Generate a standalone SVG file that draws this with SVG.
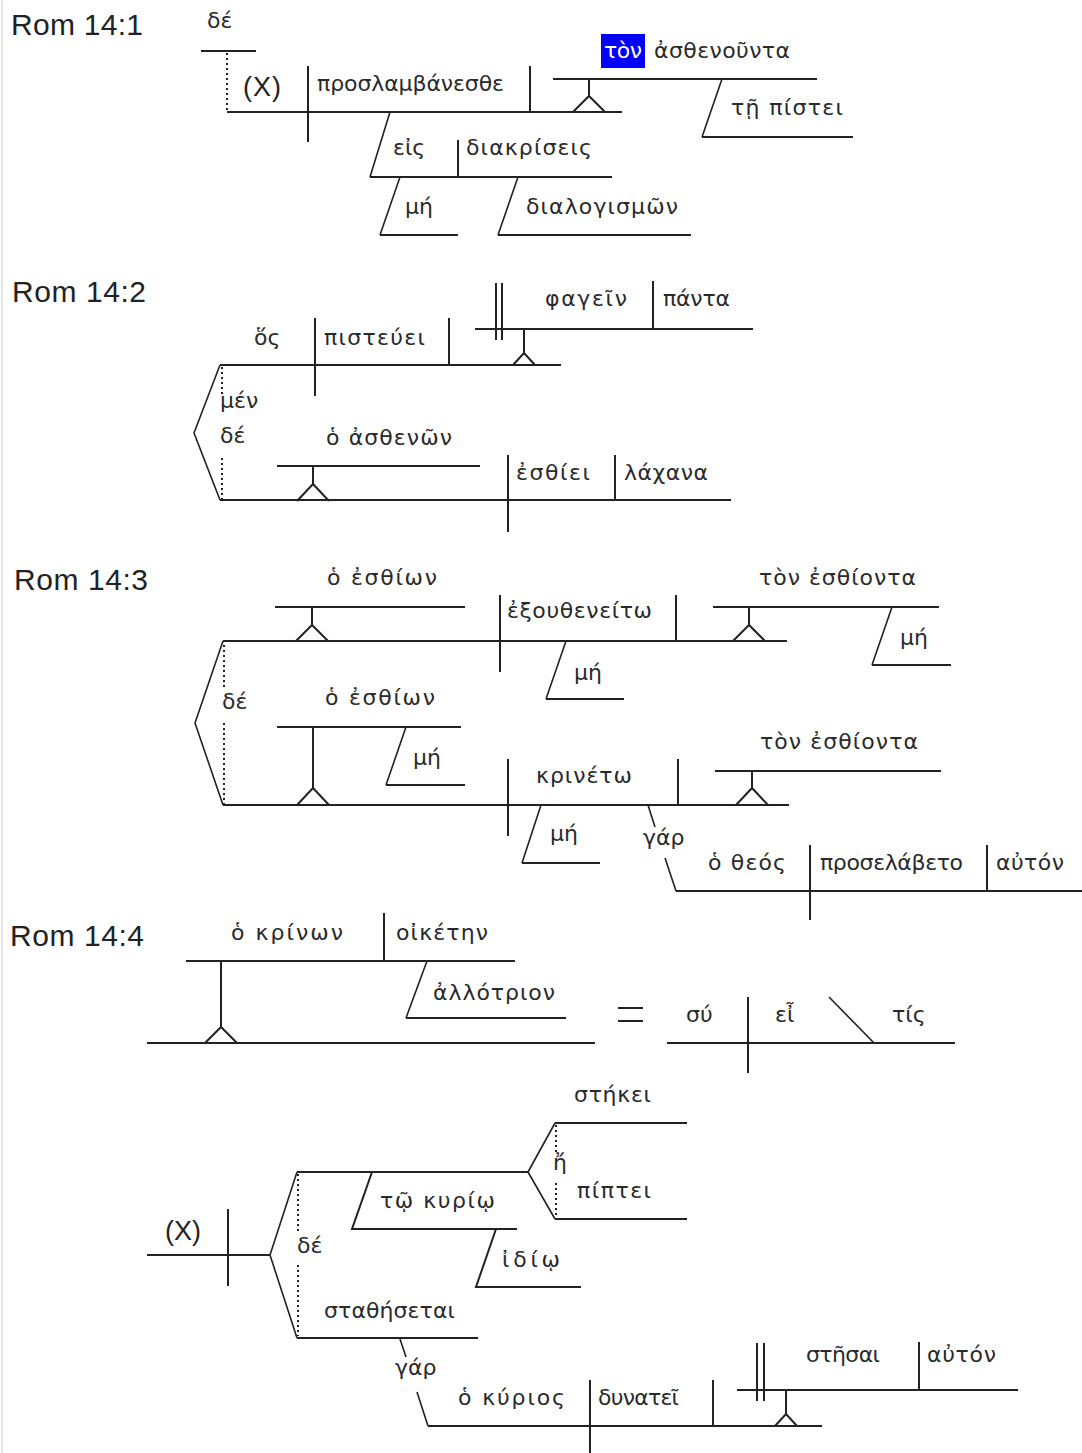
<svg xmlns="http://www.w3.org/2000/svg" width="1082" height="1453" viewBox="0 0 1082 1453">
<style>
.l{stroke:#222;stroke-width:2;fill:none}
.s{stroke:#222;stroke-width:1.6;fill:none}
.d{stroke:#222;stroke-width:2;fill:none;stroke-dasharray:2 3}
.g{font-family:"DejaVu Sans","Noto Sans",sans-serif;font-size:22px;fill:#2a2a2a}
.r{font-family:"Liberation Sans",Arial,sans-serif;font-size:30px;fill:#222}
.x{font-family:"Liberation Sans",Arial,sans-serif;font-size:27px;fill:#222}
</style>
<rect width="1082" height="1453" fill="#fff"/>
<line x1="2" y1="0" x2="2" y2="1453" stroke="#e6e6e6" stroke-width="2"/>

<g id="rom14-1">
<text class="r" x="11" y="35" textLength="132">Rom 14:1</text>
<path class="l" d="M201 51H256 M227 112H622 M308 66V142 M530 66V112 M589 79V96 M573 112L589 96L605 112 M553 79H817"/>
<path class="d" d="M227 53V112"/>
<path class="s" d="M722 79L702 137"/><path class="l" d="M702 137H853"/>
<path class="s" d="M390 112L370 177 M400 177L380 235 M518 177L498 235"/>
<path class="l" d="M370 177H612 M458 140V177 M380 235H458 M498 235H691"/>
<text class="g" x="207" y="28">δέ</text>
<text class="x" x="243" y="96" textLength="38">(X)</text>
<text class="g" x="317" y="91" textLength="187">προσλαμβάνεσθε</text>
<rect x="601" y="34" width="44" height="34" fill="#0000ff"/>
<text class="g" x="604" y="58" textLength="38" style="fill:#fff">τὸν</text>
<text class="g" x="654" y="58" textLength="136">ἀσθενοῦντα</text>
<text class="g" x="731" y="115" textLength="112">τῇ πίστει</text>
<text class="g" x="393" y="155">εἰς</text>
<text class="g" x="466" y="155" textLength="126">διακρίσεις</text>
<text class="g" x="405" y="214">μή</text>
<text class="g" x="526" y="214" textLength="152">διαλογισμῶν</text>
</g>

<g id="rom14-2">
<text class="r" x="12" y="302" textLength="134">Rom 14:2</text>
<path class="l" d="M220 365H561 M315 318V396 M449 318V365 M524 329V353 M513 365L524 353L535 365 M496 283V340 M502 283V340 M475 329H753 M653 281V329"/>
<path class="s" d="M220 365L194 433L220 500"/>
<path class="d" d="M222 367V395 M222 458V500"/>
<path class="l" d="M220 500H731 M277 466H480 M313 466V484 M297 501L313 484L329 501 M508 455V532 M615 455V500"/>
<text class="g" x="254" y="345">ὅς</text>
<text class="g" x="324" y="345" textLength="101">πιστεύει</text>
<text class="g" x="545" y="306" textLength="82">φαγεῖν</text>
<text class="g" x="663" y="306" textLength="67">πάντα</text>
<text class="g" x="220" y="408">μέν</text>
<text class="g" x="220" y="443">δέ</text>
<text class="g" x="326" y="445" textLength="126">ὁ ἀσθενῶν</text>
<text class="g" x="516" y="480" textLength="74">ἐσθίει</text>
<text class="g" x="624" y="480" textLength="84">λάχανα</text>
</g>

<g id="rom14-3">
<text class="r" x="14" y="590" textLength="134">Rom 14:3</text>
<path class="l" d="M223 641H787 M275 607H465 M312 607V625 M296 641L312 625L328 641 M500 595V672 M676 595V641 M713 607H939 M749 607V625 M733 641L749 625L765 641"/>
<path class="s" d="M892 607L872 665 M566 641L546 699"/>
<path class="l" d="M872 665H951 M546 699H624"/>
<path class="s" d="M223 641L195 723L223 805"/>
<path class="d" d="M224 645V690 M224 723V805"/>
<path class="l" d="M223 805H789 M277 727H461 M313 727V788 M297 805L313 788L329 805 M508 759V836 M678 759V805 M715 771H941 M752 771V788 M736 805L752 788L768 805"/>
<path class="s" d="M406 727L386 785 M541 805L522 863 M648 805L655 827 M665 858L676 891"/>
<path class="l" d="M386 785H465 M522 863H600 M676 891H1082 M810 845V920 M987 845V891"/>
<text class="g" x="327" y="585" textLength="110">ὁ ἐσθίων</text>
<text class="g" x="507" y="618" textLength="145">ἐξουθενείτω</text>
<text class="g" x="759" y="585" textLength="157">τὸν ἐσθίοντα</text>
<text class="g" x="900" y="645">μή</text>
<text class="g" x="574" y="680">μή</text>
<text class="g" x="222" y="709">δέ</text>
<text class="g" x="325" y="705" textLength="110">ὁ ἐσθίων</text>
<text class="g" x="413" y="765">μή</text>
<text class="g" x="536" y="783" textLength="96">κρινέτω</text>
<text class="g" x="760" y="749" textLength="158">τὸν ἐσθίοντα</text>
<text class="g" x="550" y="841">μή</text>
<text class="g" x="643" y="845">γάρ</text>
<text class="g" x="708" y="870" textLength="78">ὁ θεός</text>
<text class="g" x="820" y="870" textLength="143">προσελάβετο</text>
<text class="g" x="996" y="870" textLength="68">αὐτόν</text>
</g>

<g id="rom14-4">
<text class="r" x="10" y="946" textLength="134">Rom 14:4</text>
<path class="l" d="M186 961H515 M384 913V961 M221 961V1027 M205 1043L221 1027L237 1043 M147 1043H595 M618 1008H643 M618 1021H643 M667 1043H955 M748 997V1073"/>
<path class="s" d="M427 961L406 1018 M829 997L874 1043"/>
<path class="l" d="M406 1018H566"/>
<text class="g" x="231" y="940" textLength="112">ὁ κρίνων</text>
<text class="g" x="396" y="940" textLength="92">οἰκέτην</text>
<text class="g" x="433" y="1000" textLength="122">ἀλλότριον</text>
<text class="g" x="686" y="1022">σύ</text>
<text class="g" x="775" y="1022">εἶ</text>
<text class="g" x="892" y="1022">τίς</text>
</g>

<g id="rom14-4b">
<path class="l" d="M147 1255H270 M228 1209V1286 M297 1172H528 M372 1172L352 1229H517 M496 1229L476 1287H581 M555 1123H687 M555 1219H687 M297 1338H478"/>
<path class="s" d="M270 1255L297 1172 M270 1255L297 1338 M528 1172L555 1123 M528 1172L555 1219 M400 1339L406 1357 M417 1392L428 1426"/>
<path class="d" d="M298 1174V1232 M298 1265V1336 M556 1125V1152 M556 1183V1217"/>
<path class="l" d="M428 1426H822 M590 1380V1453 M713 1380V1426 M737 1390H1018 M757 1343V1401 M764 1343V1401 M786 1390V1414 M775 1426L786 1414L797 1426 M919 1342V1390"/>
<text class="x" x="165" y="1240" textLength="36">(X)</text>
<text class="g" x="574" y="1102" textLength="77">στήκει</text>
<text class="g" x="553" y="1170">ἤ</text>
<text class="g" x="577" y="1198" textLength="74">πίπτει</text>
<text class="g" x="380" y="1208" textLength="115">τῷ κυρίῳ</text>
<text class="g" x="297" y="1253">δέ</text>
<text class="g" x="502" y="1267" textLength="58">ἰδίῳ</text>
<text class="g" x="324" y="1318" textLength="131">σταθήσεται</text>
<text class="g" x="395" y="1375">γάρ</text>
<text class="g" x="458" y="1405" textLength="107">ὁ κύριος</text>
<text class="g" x="598" y="1405" textLength="81">δυνατεῖ</text>
<text class="g" x="806" y="1362" textLength="74">στῆσαι</text>
<text class="g" x="927" y="1362" textLength="69">αὐτόν</text>
</g>
</svg>
